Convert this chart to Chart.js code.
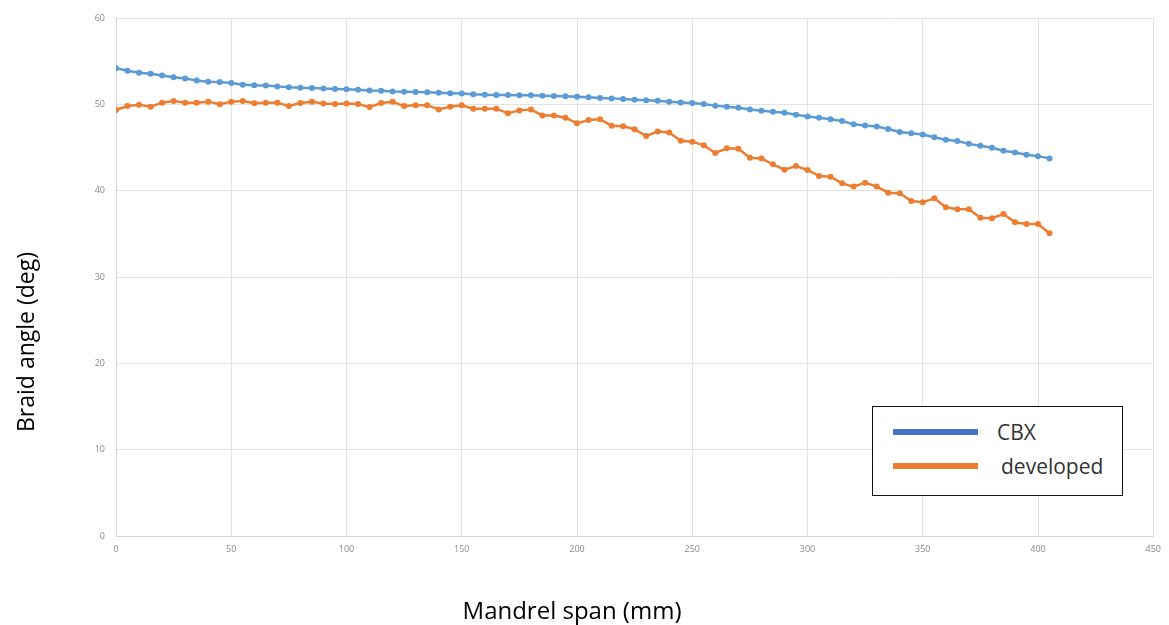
<!DOCTYPE html>
<html>
<head>
<meta charset="utf-8">
<title>Braid angle vs mandrel span</title>
<script src="https://cdn.jsdelivr.net/npm/chart.js@4/dist/chart.umd.min.js"></script>
<style>
    body { margin: 0; background: #fff; }
    #wrap { position: relative; width: 1169px; height: 625px; font-family: 'Open Sans', sans-serif; }
    #chart { position: absolute; left: 0; top: 0; }
    .axis-title { position: absolute; color: #000; white-space: nowrap; }
    #xTitle { left: 572px; top: 609px; font-size: 24px; transform: translate(-50%, -50%); }
    #yTitle { left: 25px; top: 342px; font-size: 23px; transform: translate(-50%, -50%) rotate(-90deg); }
    #legend {
        position: absolute; left: 872px; top: 406px; width: 251px; height: 90px;
        box-sizing: border-box; border: 1.5px solid #111; background: #fff;
    }
    .leg-item { position: absolute; left: 20px; height: 26px; }
    .leg-swatch { position: absolute; left: 0; top: 10px; width: 85px; height: 6px; }
    .leg-text { position: absolute; top: 0; line-height: 26px; font-size: 21px; color: #333; white-space: nowrap; }
</style>
</head>
<body>
<div id="wrap">
    <canvas id="chart" width="1169" height="625"></canvas>
    <div class="axis-title" id="xTitle">Mandrel span (mm)</div>
    <div class="axis-title" id="yTitle">Braid angle (deg)</div>
    <div id="legend"></div>
</div>
<script>
// Mandrel span positions (mm)
const span = [
    0, 5, 10, 15, 20, 25, 30, 35, 40, 45, 50, 55, 60, 65, 70, 75, 80, 85, 90, 95,
    100, 105, 110, 115, 120, 125, 130, 135, 140, 145, 150, 155, 160, 165, 170, 175, 180, 185, 190, 195,
    200, 205, 210, 215, 220, 225, 230, 235, 240, 245, 250, 255, 260, 265, 270, 275, 280, 285, 290, 295,
    300, 305, 310, 315, 320, 325, 330, 335, 340, 345, 350, 355, 360, 365, 370, 375, 380, 385, 390, 395,
    400, 405
];

// Braid angle (deg)
const cbx = [
    54.17, 53.90, 53.67, 53.55, 53.34, 53.13, 52.98, 52.76, 52.61, 52.60,
    52.47, 52.28, 52.20, 52.18, 52.08, 51.97, 51.92, 51.90, 51.82, 51.79,
    51.75, 51.68, 51.60, 51.57, 51.50, 51.47, 51.44, 51.39, 51.33, 51.29,
    51.26, 51.18, 51.10, 51.08, 51.07, 51.06, 51.05, 51.00, 50.97, 50.95,
    50.89, 50.81, 50.72, 50.69, 50.62, 50.52, 50.48, 50.42, 50.30, 50.22,
    50.15, 50.03, 49.85, 49.73, 49.61, 49.40, 49.27, 49.15, 49.03, 48.80,
    48.60, 48.45, 48.27, 48.07, 47.68, 47.56, 47.42, 47.14, 46.80, 46.65,
    46.50, 46.18, 45.90, 45.75, 45.42, 45.21, 44.98, 44.62, 44.42, 44.15,
    44.00, 43.74
];

const developed = [
    49.35, 49.81, 49.96, 49.73, 50.19, 50.39, 50.19, 50.19, 50.31, 50.00,
    50.31, 50.39, 50.12, 50.19, 50.19, 49.81, 50.15, 50.30, 50.10, 50.05,
    50.10, 50.05, 49.68, 50.15, 50.30, 49.80, 49.90, 49.90, 49.40, 49.72,
    49.90, 49.50, 49.50, 49.50, 48.96, 49.30, 49.40, 48.72, 48.70, 48.45,
    47.80, 48.19, 48.27, 47.53, 47.45, 47.12, 46.33, 46.84, 46.74, 45.79,
    45.68, 45.25, 44.37, 44.90, 44.85, 43.82, 43.74, 43.05, 42.43, 42.86,
    42.40, 41.70, 41.62, 40.85, 40.47, 40.93, 40.47, 39.77, 39.70, 38.80,
    38.65, 39.11, 38.07, 37.84, 37.84, 36.87, 36.80, 37.30, 36.34, 36.14,
    36.14, 35.06
];

const seriesNames = ['CBX', 'developed'];
const lineColors = ['#5b9bd5', '#ed7d31'];
const legendColors = ['#4472c4', '#ed7d31'];

function toPoints(values) {
    return values.map((v, i) => ({ x: span[i], y: v }));
}

const ctx = document.getElementById('chart').getContext('2d');

const chart = new Chart(ctx, {
    type: 'line',
    data: {
        datasets: [cbx, developed].map((vals, i) => ({
            label: seriesNames[i],
            data: toPoints(vals),
            borderColor: lineColors[i],
            backgroundColor: lineColors[i],
            borderWidth: 2.5,
            pointRadius: 3,
            pointBorderWidth: 0,
            tension: 0
        }))
    },
    options: {
        responsive: false,
        devicePixelRatio: 1,
        animation: false,
        layout: { padding: { left: 0, top: 18, right: 15, bottom: 0 } },
        plugins: {
            legend: { display: false },
            tooltip: { enabled: false }
        },
        scales: {
            x: {
                type: 'linear',
                min: 0,
                max: 450,
                grid: { color: '#e2e2e2', drawTicks: false },
                border: { color: '#d6d6d6' },
                ticks: {
                    stepSize: 50,
                    padding: 8,
                    color: '#8a8a8a',
                    font: { family: 'Open Sans', size: 9 }
                },
                afterFit: (scale) => { scale.height = 89; }
            },
            y: {
                min: 0,
                max: 60,
                grid: { color: '#e2e2e2', drawTicks: false },
                border: { color: '#d6d6d6' },
                ticks: {
                    stepSize: 10,
                    padding: 11,
                    color: '#8a8a8a',
                    font: { family: 'Open Sans', size: 9 }
                },
                afterFit: (scale) => { scale.width = 116; }
            }
        }
    }
});

// Legend box, drawn as html over the plot
const legend = document.getElementById('legend');
seriesNames.forEach((name, i) => {
    const item = document.createElement('div');
    item.className = 'leg-item';
    item.style.top = (i === 0 ? 12 : 46) + 'px';
    item.innerHTML = `<div class="leg-swatch" style="background:${legendColors[i]}"></div>` +
        `<div class="leg-text" style="left:${i === 0 ? 104 : 108}px">${name}</div>`;
    legend.appendChild(item);
});
</script>
</body>
</html>
